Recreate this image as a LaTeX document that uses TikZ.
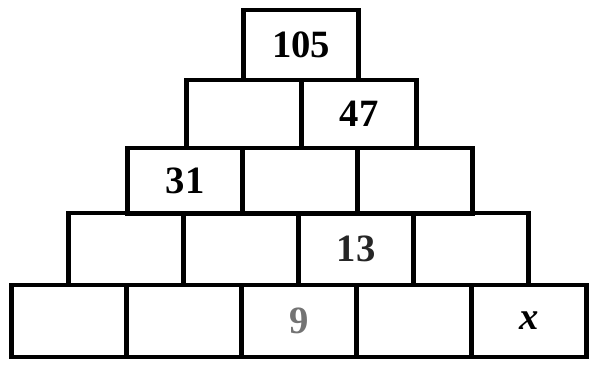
\documentclass[tikz,border=0pt]{standalone}
\usepackage{fontspec}
\setmainfont{Liberation Serif}
\usepackage{xcolor}
\usetikzlibrary{positioning}
\tikzset{
    brick/.style={draw=black, line width=2.4pt, inner sep=0pt, minimum width=2.3cm, minimum height=#1,
        font=\fontsize{22}{24}\selectfont\bfseries},
    brick/.default=1.4cm
}

\begin{document}
\begin{tikzpicture}[x=0.02cm, y=-0.02cm]
    \useasboundingbox (0,0) rectangle (592,365);
    % --- Row 5 (base) ---
    \node[brick=1.44cm] (r5c1) at (69,321) {};
    \node[brick=1.44cm] (r5c2) at (184,321) {};
    \node[brick=1.44cm, text=black!55] (r5c3) at (299,321) {9};
    \node[brick=1.44cm] (r5c4) at (414,321) {};
    \node[brick=1.44cm] (r5c5) at (529,321) {\itshape x};
    % --- Row 4 ---
    \node[brick=1.44cm] (r4c1) at (126,249) {};
    \node[brick=1.44cm] (r4c2) at (241,249) {};
    \node[brick=1.44cm, text=black!85] (r4c3) at (356,249) {13};
    \node[brick=1.44cm] (r4c4) at (471,249) {};
    % --- Row 3 ---
    \node[brick=1.32cm] (r3c1) at (185,181) {31};
    \node[brick=1.32cm] (r3c2) at (300,181) {};
    \node[brick=1.32cm] (r3c3) at (415,181) {};
    % --- Row 2 ---
    \node[brick=1.36cm] (r2c1) at (244,114) {};
    \node[brick=1.36cm] (r2c2) at (359,114) {47};
    % --- Row 1 (top) ---
    \node[brick=1.4cm] (r1c1) at (301,45) {105};
\end{tikzpicture}
\end{document}
